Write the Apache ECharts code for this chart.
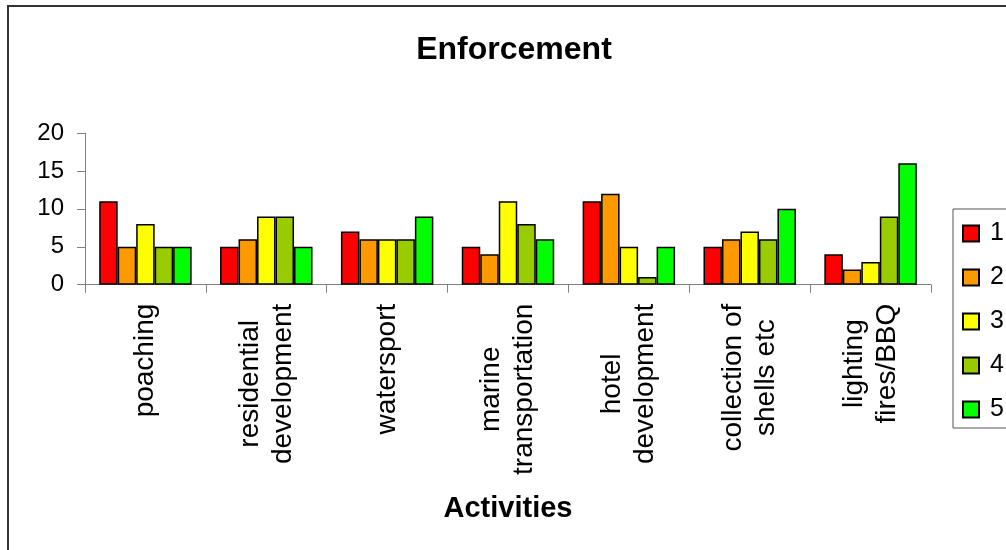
<!DOCTYPE html>
<html>
<head>
<meta charset="utf-8">
<script src="https://cdn.jsdelivr.net/npm/echarts@6/dist/echarts.min.js"></script>
<style>
html,body{margin:0;padding:0;background:#fff;}
#chart{width:1006px;height:550px;}
</style>
</head>
<body>
<div id="chart"></div>
<script>
var categories = ['poaching', 'residential\ndevelopment', 'watersport', 'marine\ntransportation', 'hotel\ndevelopment', 'collection of\nshells etc', 'lighting\nfires/BBQ'];
var seriesNames = ['1', '2', '3', '4', '5'];
var s1 = [11, 5, 7, 5, 11, 5, 4];
var s2 = [5, 6, 6, 4, 12, 6, 2];
var s3 = [8, 9, 6, 11, 5, 7, 3];
var s4 = [5, 9, 6, 8, 1, 6, 9];
var s5 = [5, 5, 9, 6, 5, 10, 16];
var yTicks = [0, 5, 10, 15, 20];
var colors = ['#FF0000', '#FF9900', '#FFFF00', '#99CC00', '#00FF00'];

var allSeries = [s1, s2, s3, s4, s5];
var FONT = 'Liberation Sans, Arial, sans-serif';

var chart = echarts.init(document.getElementById('chart'));
var option = {
  animation: false,
  backgroundColor: '#ffffff',
  title: {
    text: 'Enforcement',
    left: 509, top: 29,
    textAlign: 'center',
    textStyle: {fontFamily: FONT, fontSize: 32, fontWeight: 'bold', color: '#000'}
  },
  legend: {
    orient: 'vertical',
    left: 953, top: 209,
    padding: [12, 60, 6, 9],
    itemGap: 19,
    itemWidth: 16, itemHeight: 16,
    icon: 'rect',
    borderColor: '#555', borderWidth: 1,
    data: seriesNames,
    textStyle: {fontFamily: FONT, fontSize: 25, color: '#000', padding: [0, 0, 0, 6]}
  },
  grid: {left: 85, right: 75, top: 133, bottom: 265.3, containLabel: false},
  xAxis: {
    type: 'category',
    data: categories,
    name: 'Activities',
    nameLocation: 'middle',
    nameGap: 210,
    nameTextStyle: {fontFamily: FONT, fontSize: 29, fontWeight: 'bold', color: '#000'},
    axisLine: {lineStyle: {color: '#808080', width: 1}},
    axisTick: {show: true, length: 8, alignWithLabel: false, lineStyle: {color: '#808080'}},
    axisLabel: {
      rotate: 90,
      margin: 19,
      interval: 0,
      formatter: function (v) {
        return v.split('\n').map(function (l) { return '{c|' + l + '}'; }).join('\n');
      },
      rich: {c: {align: 'center', fontFamily: FONT, fontSize: 28, lineHeight: 33, color: '#000'}}
    }
  },
  yAxis: {
    type: 'value',
    min: yTicks[0], max: yTicks[yTicks.length - 1], interval: 5,
    axisLine: {show: true, lineStyle: {color: '#808080', width: 1}},
    axisTick: {show: true, length: 8, lineStyle: {color: '#808080'}},
    splitLine: {show: false},
    axisLabel: {margin: 21, fontFamily: FONT, fontSize: 24, color: '#000'}
  },
  series: seriesNames.map(function (n, i) {
    return {
      name: n,
      type: 'bar',
      data: allSeries[i],
      barGap: '0%',
      barCategoryGap: '23.5%',
      itemStyle: {color: colors[i], borderColor: '#000', borderWidth: 1.5}
    };
  }),
  graphic: [{
    type: 'rect',
    shape: {x: 8, y: 6, width: 1100, height: 600},
    style: {fill: 'none', stroke: '#333', lineWidth: 2},
    silent: true
  }]
};
chart.setOption(option);
</script>
</body>
</html>
